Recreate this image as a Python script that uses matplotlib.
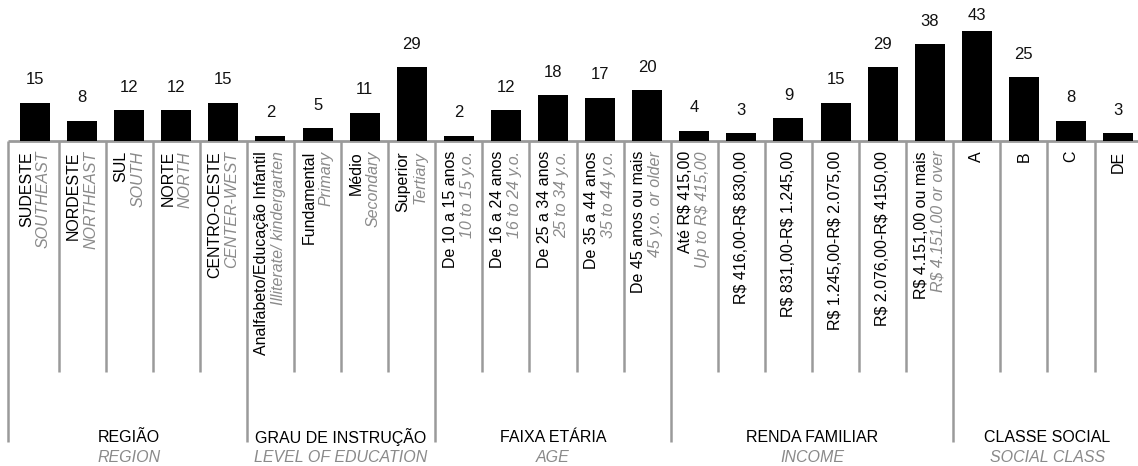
import matplotlib
matplotlib.use("Agg")
import matplotlib.pyplot as plt

plt.rcParams['font.family'] = ['Liberation Sans', 'DejaVu Sans']
plt.rcParams['text.parse_math'] = False

# ---- data ----
labels_pt = ["SUDESTE", "NORDESTE", "SUL", "NORTE", "CENTRO-OESTE",
             "Analfabeto/Educação Infantil", "Fundamental", "Médio", "Superior",
             "De 10 a 15 anos", "De 16 a 24 anos", "De 25 a 34 anos", "De 35 a 44 anos", "De 45 anos ou mais",
             "Até R$ 415,00", "R$ 416,00-R$ 830,00", "R$ 831,00-R$ 1.245,00", "R$ 1.245,00-R$ 2.075,00",
             "R$ 2.076,00-R$ 4150,00", "R$ 4.151,00 ou mais",
             "A", "B", "C", "DE"]
labels_en = ["SOUTHEAST", "NORTHEAST", "SOUTH", "NORTH", "CENTER-WEST",
             "Illiterate/ kindergarten", "Primary", "Secondary", "Tertiary",
             "10 to 15 y.o.", "16 to 24 y.o.", "25 to 34 y.o.", "35 to 44 y.o.", "45 y.o. or older",
             "Up to R$ 415,00", "", "", "", "", "R$ 4.151.00 or over",
             "", "", "", ""]
values = [15, 8, 12, 12, 15,
          2, 5, 11, 29,
          2, 12, 18, 17, 20,
          4, 3, 9, 15, 29, 38,
          43, 25, 8, 3]
group_pt = ["REGIÃO", "GRAU DE INSTRUÇÃO", "FAIXA ETÁRIA", "RENDA FAMILIAR", "CLASSE SOCIAL"]
group_en = ["REGION", "LEVEL OF EDUCATION", "AGE", "INCOME", "SOCIAL CLASS"]
group_sizes = [5, 4, 5, 6, 4]

# ---- layout ----
W, H, DPI = 1138, 466, 100
fig = plt.figure(figsize=(W / DPI, H / DPI), dpi=DPI)
ax = fig.add_axes([0, 0, 1, 1])
ax.axis('off')

U = 47.09      # px per category
PX = 2.55      # px per value unit
base_px = 141
ax.set_xlim(-35 / U, (W - 35) / U)
ax.set_ylim(-(H - base_px) / PX, base_px / PX)

def py(p):  # pixel distance below baseline -> data units
    return -p / PX

GRAY = '#9a9a9a'
TGRAY = '#8a8a8a'
FS = 11.5
n = len(values)
xs = list(range(n))

ax.bar(xs, values, width=30 / U, color='black', zorder=3)

for x, v in zip(xs, values):
    ytxt = min(v + 23 / PX, (base_px - 15) / PX)
    ax.text(x, ytxt, str(v), ha='center', va='center', fontsize=12, color='#111111')

# baseline
ax.plot([-0.57, n], [0, 0], color=GRAY, lw=2, zorder=2, solid_capstyle='butt')

# separators
starts = [0]
for s in group_sizes:
    starts.append(starts[-1] + s)
boundaries = set(starts)
for b in range(0, n + 1):
    xb = b - 0.5 if b > 0 else -0.57
    if b in boundaries:
        ax.plot([xb, xb], [0, py(301)], color=GRAY, lw=1.8, zorder=2, solid_capstyle='butt')
    else:
        ax.plot([xb, xb], [0, py(231)], color=GRAY, lw=1.8, zorder=2, solid_capstyle='butt')

# category labels
off = 8.5 / U
for x, lp, le in zip(xs, labels_pt, labels_en):
    if le:
        ax.text(x - off, py(10), lp, rotation=90, ha='center', va='top', fontsize=FS, color='black')
        ax.text(x + off, py(10), le, rotation=90, ha='center', va='top', fontsize=FS,
                color=TGRAY, style='italic')
    else:
        ax.text(x, py(10), lp, rotation=90, ha='center', va='top', fontsize=FS, color='black')

# group labels
for gi in range(len(group_sizes)):
    left = starts[gi] - 0.5
    right = starts[gi + 1] - 0.5
    cx = (left + right) / 2
    ax.text(cx, py(296), group_pt[gi], ha='center', va='center', fontsize=11.5, color='black')
    ax.text(cx, py(317), group_en[gi], ha='center', va='center', fontsize=11.5, color=TGRAY,
            style='italic')

fig.savefig("out.png", dpi=DPI)
